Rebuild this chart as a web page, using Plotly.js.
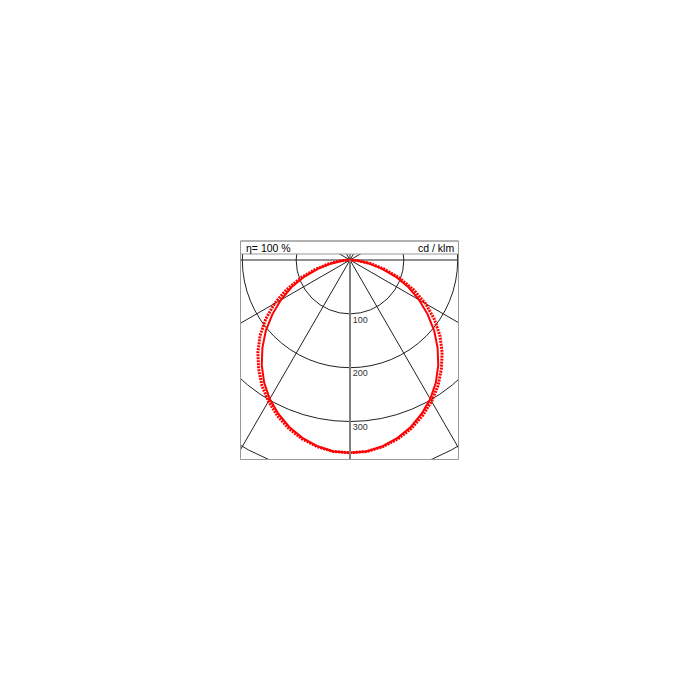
<!DOCTYPE html>
<html>
<head>
<meta charset="utf-8">
<title>Polar luminous intensity</title>
<script src="https://cdn.plot.ly/plotly-3.0.1.min.js"></script>
<style>
  html, body { margin: 0; padding: 0; background: #fff; }
  #chart { width: 700px; height: 700px; }
</style>
</head>
<body>
<div id="chart"></div>
<script>
// gamma angles (deg from nadir) and intensities in cd/klm
const gamma   = [0, 5, 10, 15, 20, 25, 30, 35, 40, 45, 50, 55, 60, 65, 70, 75, 80, 85, 90];
const c0c180  = [358, 357, 351, 342, 330, 315, 298, 278, 255, 230, 204, 176, 148, 120, 90, 60, 34, 13, 0];
const c90c270 = [358, 357, 352, 344, 333, 319, 303, 285, 264, 242, 218, 191, 162, 130, 97, 66, 39, 16, 0];

const radialTicks  = [100, 200, 300, 400];
const radialLabels = ['100', '200', '300', '400'];

const headerLeft  = '\u03b7= 100 %';
const headerRight = 'cd / klm';

// mirror one half-plane to both sides of the nadir
function mirror(vals) {
  var th = [], r = [];
  for (var i = gamma.length - 1; i > 0; i--) { th.push(-gamma[i]); r.push(vals[i]); }
  for (var j = 0; j < gamma.length; j++) { th.push(gamma[j]); r.push(vals[j]); }
  return { theta: th, r: r };
}

var a = mirror(c0c180);
var b = mirror(c90c270);

var traceC0 = {
  type: 'scatterpolar',
  mode: 'lines',
  theta: a.theta,
  r: a.r,
  name: 'C0 - C180',
  line: { color: '#ff0000', width: 2 }
};

var traceC90 = {
  type: 'scatterpolar',
  mode: 'lines',
  theta: b.theta,
  r: b.r,
  name: 'C90 - C270',
  line: { color: '#ff0000', width: 3, dash: '2px,1px' }
};

// pixel -> paper helpers (700 x 700 canvas, no margins)
function px(x) { return x / 700; }
function py(y) { return 1 - y / 700; }

var L = 240.5, R = 458.5, T = 241, B = 459.5, H = 254;
var cx = 350, cy = 260, rad = 242.3;

var shapes = [
  // white masks outside the frame
  { type: 'rect', xref: 'paper', yref: 'paper', x0: 0, x1: 1, y0: py(0), y1: py(T), fillcolor: '#fff', line: { width: 0 }, layer: 'above' },
  { type: 'rect', xref: 'paper', yref: 'paper', x0: 0, x1: 1, y0: py(B), y1: 0, fillcolor: '#fff', line: { width: 0 }, layer: 'above' },
  { type: 'rect', xref: 'paper', yref: 'paper', x0: 0, x1: px(L), y0: 0, y1: 1, fillcolor: '#fff', line: { width: 0 }, layer: 'above' },
  { type: 'rect', xref: 'paper', yref: 'paper', x0: px(R), x1: 1, y0: 0, y1: 1, fillcolor: '#fff', line: { width: 0 }, layer: 'above' },
  // header strip
  { type: 'rect', xref: 'paper', yref: 'paper', x0: px(L), x1: px(R), y0: py(H), y1: py(T), fillcolor: '#fff', line: { color: '#999', width: 1 }, layer: 'above' },
  // frame
  { type: 'rect', xref: 'paper', yref: 'paper', x0: px(L), x1: px(R), y0: py(B), y1: py(T), fillcolor: 'rgba(0,0,0,0)', line: { color: '#999', width: 1 }, layer: 'above' }
];

var layout = {
  width: 700,
  height: 700,
  margin: { l: 0, r: 0, t: 0, b: 0 },
  paper_bgcolor: '#fff',
  showlegend: false,
  font: { family: 'Liberation Sans, Arial, sans-serif', color: '#000' },
  polar: {
    domain: { x: [px(cx - rad), px(cx + rad)], y: [py(cy + rad), py(cy - rad)] },
    bgcolor: '#fff',
    radialaxis: {
      range: [0, 450],
      tickmode: 'array',
      tickvals: radialTicks,
      ticktext: radialLabels.map(function (s) { return '<br>' + s; }),
      angle: -90,
      tickangle: -90,
      side: 'counterclockwise',
      ticklabelstandoff: 1,
      layer: 'above traces',
      showline: true,
      linecolor: '#808080',
      linewidth: 2,
      ticks: '',
      gridcolor: '#222',
      gridwidth: 1,
      tickfont: { size: 9, color: '#333' }
    },
    angularaxis: {
      rotation: 270,
      direction: 'counterclockwise',
      tickmode: 'linear',
      tick0: 0,
      dtick: 30,
      showticklabels: false,
      ticks: '',
      showline: false,
      gridcolor: '#222',
      gridwidth: 1
    }
  },
  shapes: shapes,
  annotations: [
    { xref: 'paper', yref: 'paper', x: px(L + 3), y: py((T + H) / 2), text: headerLeft, showarrow: false, xanchor: 'left', yanchor: 'middle', font: { size: 10.5, color: '#000' } },
    { xref: 'paper', yref: 'paper', x: px(R - 3), y: py((T + H) / 2), text: headerRight, showarrow: false, xanchor: 'right', yanchor: 'middle', font: { size: 10.5, color: '#000' } }
  ]
};

Plotly.newPlot('chart', [traceC0, traceC90], layout, { staticPlot: true });
</script>
</body>
</html>
